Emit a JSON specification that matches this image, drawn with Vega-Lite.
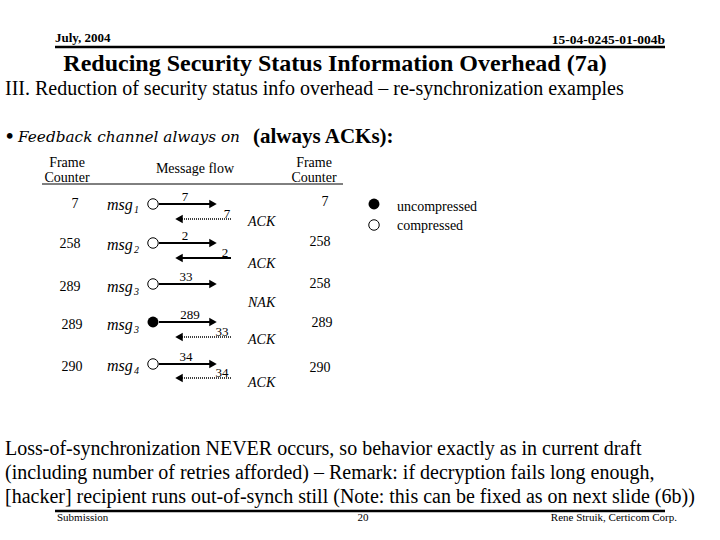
{
  "$schema": "https://vega.github.io/schema/vega-lite/v6.json",
  "width": 720,
  "height": 540,
  "autosize": {"type": "fit", "contains": "padding"},
  "padding": 0,
  "background": "white",
  "config": {"view": {"stroke": null}, "text": {"font": "Liberation Serif", "color": "black"}},
  "datasets": {
    "t": [
      {"x": 55, "y": 38, "t": "July, 2004", "k": "hl"},
      {"x": 665, "y": 40, "t": "15-04-0245-01-004b", "k": "hr"},
      {"x": 335, "y": 64, "t": "Reducing Security Status Information Overhead (7a)", "k": "title"},
      {"x": 5, "y": 89, "t": "III. Reduction of security status info overhead – re-synchronization examples", "k": "sub"},
      {"x": 6, "y": 137, "t": "•", "k": "fb"},
      {"x": 18, "y": 137, "t": "Feedback channel always on", "k": "fi"},
      {"x": 253, "y": 137, "t": "(always ACKs):", "k": "fb"},
      {"x": 67, "y": 163, "t": "Frame", "k": "c"},
      {"x": 67, "y": 178, "t": "Counter", "k": "c"},
      {"x": 195, "y": 169, "t": "Message flow", "k": "c"},
      {"x": 314, "y": 163, "t": "Frame", "k": "c"},
      {"x": 314, "y": 178, "t": "Counter", "k": "c"},
      {"x": 75, "y": 204, "t": "7", "k": "c"},
      {"x": 70, "y": 244, "t": "258", "k": "c"},
      {"x": 70, "y": 287, "t": "289", "k": "c"},
      {"x": 72, "y": 325, "t": "289", "k": "c"},
      {"x": 72, "y": 367, "t": "290", "k": "c"},
      {"x": 325, "y": 202, "t": "7", "k": "c"},
      {"x": 320, "y": 242, "t": "258", "k": "c"},
      {"x": 320, "y": 284, "t": "258", "k": "c"},
      {"x": 322, "y": 323, "t": "289", "k": "c"},
      {"x": 320, "y": 368, "t": "290", "k": "c"},
      {"x": 107, "y": 205, "t": "msg", "k": "i2"},
      {"x": 134, "y": 210, "t": "1", "k": "s"},
      {"x": 107, "y": 245, "t": "msg", "k": "i2"},
      {"x": 134, "y": 250, "t": "2", "k": "s"},
      {"x": 107, "y": 287, "t": "msg", "k": "i2"},
      {"x": 134, "y": 292, "t": "3", "k": "s"},
      {"x": 107, "y": 325, "t": "msg", "k": "i2"},
      {"x": 134, "y": 330, "t": "3", "k": "s"},
      {"x": 107, "y": 366, "t": "msg", "k": "i2"},
      {"x": 134, "y": 371, "t": "4", "k": "s"},
      {"x": 185, "y": 197, "t": "7", "k": "al"},
      {"x": 185, "y": 236, "t": "2", "k": "al"},
      {"x": 186, "y": 277, "t": "33", "k": "al"},
      {"x": 190, "y": 315, "t": "289", "k": "al"},
      {"x": 186, "y": 357, "t": "34", "k": "al"},
      {"x": 227, "y": 214, "t": "7", "k": "al"},
      {"x": 225, "y": 253, "t": "2", "k": "al"},
      {"x": 222, "y": 332, "t": "33", "k": "al"},
      {"x": 222, "y": 373, "t": "34", "k": "al"},
      {"x": 248, "y": 222, "t": "ACK", "k": "i"},
      {"x": 248, "y": 264, "t": "ACK", "k": "i"},
      {"x": 248, "y": 303, "t": "NAK", "k": "i"},
      {"x": 248, "y": 340, "t": "ACK", "k": "i"},
      {"x": 248, "y": 383, "t": "ACK", "k": "i"},
      {"x": 397, "y": 207, "t": "uncompressed", "k": "lg"},
      {"x": 397, "y": 226, "t": "compressed", "k": "lg"},
      {"x": 5, "y": 449, "t": "Loss-of-synchronization NEVER occurs, so behavior exactly as in current draft", "k": "body"},
      {"x": 5, "y": 473, "t": "(including number of retries afforded) – Remark: if decryption fails long enough,", "k": "body"},
      {"x": 5, "y": 497, "t": "[hacker] recipient runs out-of-synch still (Note: this can be fixed as on next slide (6b))", "k": "body"},
      {"x": 57, "y": 518, "t": "Submission", "k": "fl"},
      {"x": 363, "y": 518, "t": "20", "k": "fc"},
      {"x": 677, "y": 518, "t": "Rene Struik, Certicom Corp.", "k": "fr"}
    ],
    "r": [
      {"x": 55, "x2": 665, "y": 47, "y2": 47, "k": "thick"},
      {"x": 55, "x2": 665, "y": 511, "y2": 511, "k": "thick"},
      {"x": 42, "x2": 343, "y": 184, "y2": 184, "k": "thin"},
      {"x": 159, "x2": 210, "y": 204, "y2": 204, "k": "solid"},
      {"x": 159, "x2": 210, "y": 243, "y2": 243, "k": "solid"},
      {"x": 159, "x2": 210, "y": 284, "y2": 284, "k": "solid"},
      {"x": 159, "x2": 210, "y": 322, "y2": 322, "k": "solid"},
      {"x": 159, "x2": 210, "y": 364, "y2": 364, "k": "solid"},
      {"x": 182, "x2": 231, "y": 219, "y2": 219, "k": "dot"},
      {"x": 182, "x2": 231, "y": 258, "y2": 258, "k": "solid"},
      {"x": 182, "x2": 231, "y": 337, "y2": 337, "k": "dot"},
      {"x": 182, "x2": 231, "y": 378, "y2": 378, "k": "dot"}
    ],
    "h": [
      {"x": 213, "y": 204, "d": "r"},
      {"x": 213, "y": 243, "d": "r"},
      {"x": 213, "y": 284, "d": "r"},
      {"x": 213, "y": 322, "d": "r"},
      {"x": 213, "y": 364, "d": "r"},
      {"x": 179, "y": 219, "d": "l"},
      {"x": 179, "y": 258, "d": "l"},
      {"x": 179, "y": 337, "d": "l"},
      {"x": 179, "y": 378, "d": "l"}
    ],
    "c": [
      {"x": 153, "y": 204, "f": "c"},
      {"x": 153, "y": 243, "f": "c"},
      {"x": 153, "y": 284, "f": "c"},
      {"x": 153, "y": 322, "f": "u"},
      {"x": 153, "y": 364, "f": "c"},
      {"x": 374, "y": 204, "f": "u"},
      {"x": 374, "y": 225, "f": "c"}
    ]
  },
  "encoding": {
    "x": {"field": "x", "type": "quantitative", "scale": {"domain": [0, 720], "nice": false, "zero": false}, "axis": null},
    "y": {"field": "y", "type": "quantitative", "scale": {"domain": [0, 540], "nice": false, "zero": false, "reverse": true}, "axis": null}
  },
  "layer": [
    {"data": {"name": "r"}, "transform": [{"filter": "datum.k == 'thick'"}], "mark": {"type": "rule", "strokeWidth": 2.5, "color": "black"}, "encoding": {"x2": {"field": "x2"}, "y2": {"field": "y2"}}},
    {"data": {"name": "r"}, "transform": [{"filter": "datum.k == 'thin'"}], "mark": {"type": "rule", "strokeWidth": 1, "color": "black"}, "encoding": {"x2": {"field": "x2"}, "y2": {"field": "y2"}}},
    {"data": {"name": "r"}, "transform": [{"filter": "datum.k == 'solid'"}], "mark": {"type": "rule", "strokeWidth": 2, "color": "black"}, "encoding": {"x2": {"field": "x2"}, "y2": {"field": "y2"}}},
    {"data": {"name": "r"}, "transform": [{"filter": "datum.k == 'dot'"}], "mark": {"type": "rule", "strokeWidth": 1.5, "strokeDash": [1, 1], "color": "black"}, "encoding": {"x2": {"field": "x2"}, "y2": {"field": "y2"}}},
    {"data": {"name": "h"}, "transform": [{"filter": "datum.d == 'r'"}], "mark": {"type": "point", "shape": "triangle-right", "filled": true, "color": "black", "size": 75, "opacity": 1}},
    {"data": {"name": "h"}, "transform": [{"filter": "datum.d == 'l'"}], "mark": {"type": "point", "shape": "triangle-left", "filled": true, "color": "black", "size": 75, "opacity": 1}},
    {"data": {"name": "c"}, "transform": [{"filter": "datum.f == 'c'"}], "mark": {"type": "point", "shape": "circle", "filled": true, "fill": "white", "stroke": "black", "strokeWidth": 1, "size": 110, "opacity": 1}},
    {"data": {"name": "c"}, "transform": [{"filter": "datum.f == 'u'"}], "mark": {"type": "point", "shape": "circle", "filled": true, "color": "black", "size": 120, "opacity": 1}},
    {"data": {"name": "t"}, "transform": [{"filter": "datum.k == 'hl'"}], "mark": {"type": "text", "align": "left", "baseline": "middle", "fontSize": 13, "fontWeight": "bold"}, "encoding": {"text": {"field": "t"}}},
    {"data": {"name": "t"}, "transform": [{"filter": "datum.k == 'hr'"}], "mark": {"type": "text", "align": "right", "baseline": "middle", "fontSize": 13.5, "fontWeight": "bold"}, "encoding": {"text": {"field": "t"}}},
    {"data": {"name": "t"}, "transform": [{"filter": "datum.k == 'title'"}], "mark": {"type": "text", "align": "center", "baseline": "middle", "fontSize": 24, "fontWeight": "bold"}, "encoding": {"text": {"field": "t"}}},
    {"data": {"name": "t"}, "transform": [{"filter": "datum.k == 'sub'"}], "mark": {"type": "text", "align": "left", "baseline": "middle", "fontSize": 20}, "encoding": {"text": {"field": "t"}}},
    {"data": {"name": "t"}, "transform": [{"filter": "datum.k == 'fi'"}], "mark": {"type": "text", "align": "left", "baseline": "middle", "fontSize": 15.3, "font": "DejaVu Serif", "fontStyle": "italic"}, "encoding": {"text": {"field": "t"}}},
    {"data": {"name": "t"}, "transform": [{"filter": "datum.k == 'fb'"}], "mark": {"type": "text", "align": "left", "baseline": "middle", "fontSize": 21, "fontWeight": "bold"}, "encoding": {"text": {"field": "t"}}},
    {"data": {"name": "t"}, "transform": [{"filter": "datum.k == 'c'"}], "mark": {"type": "text", "align": "center", "baseline": "middle", "fontSize": 14}, "encoding": {"text": {"field": "t"}}},
    {"data": {"name": "t"}, "transform": [{"filter": "datum.k == 'al'"}], "mark": {"type": "text", "align": "center", "baseline": "middle", "fontSize": 13}, "encoding": {"text": {"field": "t"}}},
    {"data": {"name": "t"}, "transform": [{"filter": "datum.k == 'i'"}], "mark": {"type": "text", "align": "left", "baseline": "middle", "fontSize": 14, "fontStyle": "italic"}, "encoding": {"text": {"field": "t"}}},
    {"data": {"name": "t"}, "transform": [{"filter": "datum.k == 'i2'"}], "mark": {"type": "text", "align": "left", "baseline": "middle", "fontSize": 16, "fontStyle": "italic"}, "encoding": {"text": {"field": "t"}}},
    {"data": {"name": "t"}, "transform": [{"filter": "datum.k == 's'"}], "mark": {"type": "text", "align": "left", "baseline": "middle", "fontSize": 10, "fontStyle": "italic"}, "encoding": {"text": {"field": "t"}}},
    {"data": {"name": "t"}, "transform": [{"filter": "datum.k == 'lg'"}], "mark": {"type": "text", "align": "left", "baseline": "middle", "fontSize": 14}, "encoding": {"text": {"field": "t"}}},
    {"data": {"name": "t"}, "transform": [{"filter": "datum.k == 'body'"}], "mark": {"type": "text", "align": "left", "baseline": "middle", "fontSize": 20}, "encoding": {"text": {"field": "t"}}},
    {"data": {"name": "t"}, "transform": [{"filter": "datum.k == 'fl'"}], "mark": {"type": "text", "align": "left", "baseline": "middle", "fontSize": 11}, "encoding": {"text": {"field": "t"}}},
    {"data": {"name": "t"}, "transform": [{"filter": "datum.k == 'fc'"}], "mark": {"type": "text", "align": "center", "baseline": "middle", "fontSize": 11}, "encoding": {"text": {"field": "t"}}},
    {"data": {"name": "t"}, "transform": [{"filter": "datum.k == 'fr'"}], "mark": {"type": "text", "align": "right", "baseline": "middle", "fontSize": 11}, "encoding": {"text": {"field": "t"}}}
  ]
}
